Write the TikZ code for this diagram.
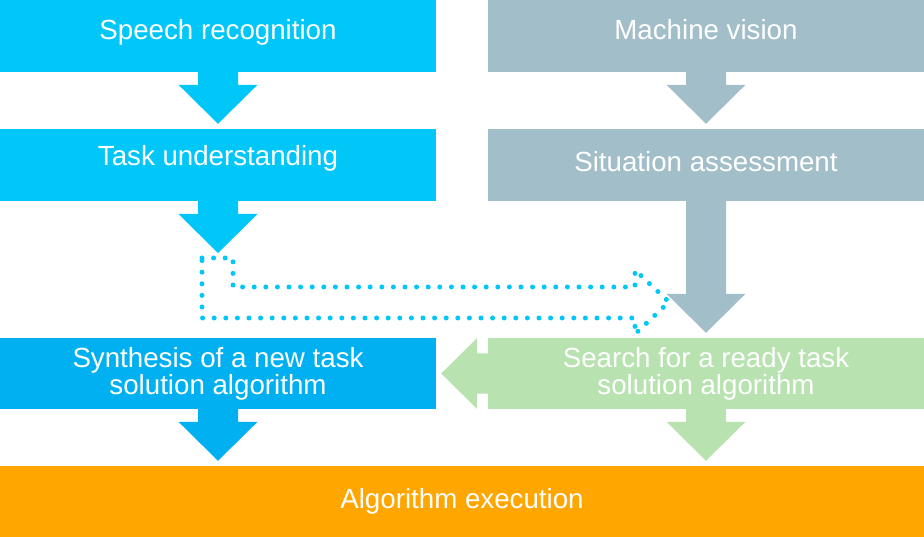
\documentclass[tikz,border=0pt]{standalone}
\usepackage{fontspec}
\setmainfont{Liberation Sans}
\usetikzlibrary{calc}

\definecolor{skyblue}{RGB}{0,199,248}
\definecolor{deepsky}{RGB}{0,176,240}
\definecolor{slategray}{RGB}{162,190,201}
\definecolor{palegreen}{RGB}{184,226,176}
\definecolor{execorange}{RGB}{255,166,0}

% block arrow pointing down: from node, target point, colour
\newcommand{\downblock}[3]{%
  \fill[#3] ($(#1.south)+(-20,0)$) -- ($(#1.south |- #2)+(-20,-44)$)
    -- ($(#1.south |- #2)+(-39.5,-44)$) -- ($(#1.south |- #2)+(0,-5)$)
    -- ($(#1.south |- #2)+(39.5,-44)$) -- ($(#1.south |- #2)+(20,-44)$)
    -- ($(#1.south)+(20,0)$) -- cycle;}

\begin{document}
\begin{tikzpicture}[
    x=1pt,
    y=-1pt,
    font=\fontsize{27.7}{27}\selectfont,
    stage/.style={minimum width=436pt, minimum height=72pt, inner sep=0pt, align=center, text=white},
    oneline/.style={text height=20pt, text depth=#1},
    dotpath/.style={draw=skyblue, line width=5pt, line cap=round, dash pattern=on 0pt off 11.6pt}
]
\useasboundingbox (0,0) rectangle (924,537);

% --- Bloques ---
\node[stage, oneline=13.4pt, fill=skyblue]   (speech)    at (218,36)  {Speech recognition};
\node[stage, oneline=13.4pt, fill=slategray] (vision)    at (706,36)  {Machine vision};
\node[stage, oneline=18.6pt, fill=skyblue]   (task)      at (218,165) {Task understanding};
\node[stage, oneline=6.6pt, fill=slategray]  (situation) at (706,165) {Situation assessment};
\node[stage, fill=deepsky, minimum height=71pt]   (synth)  at (218,373.5) {Synthesis of a new task\\solution algorithm};
\node[stage, fill=palegreen, minimum height=71pt] (search) at (706,373.5) {Search for a ready task\\solution algorithm};
\node[stage, oneline=7pt, fill=execorange, minimum width=924pt, minimum height=71pt] (exec) at (462,501.5) {Algorithm execution};

\coordinate (detour) at (218,258);

% --- Flechas ---
\downblock{speech}{task.north}{skyblue}
\downblock{vision}{situation.north}{slategray}
\downblock{task}{detour}{skyblue}
\downblock{situation}{search.north}{slategray}
\downblock{synth}{exec.north}{deepsky}
\downblock{search}{exec.north}{palegreen}

\fill[palegreen] ($(search.west)+(0,-20)$) -- ($(synth.east)+(41,-20)$)
    -- ($(synth.east)+(41,-35.5)$) -- ($(synth.east)+(5,0)$)
    -- ($(synth.east)+(41,35.5)$) -- ($(synth.east)+(41,20)$)
    -- ($(search.west)+(0,20)$) -- cycle;

% --- Flecha punteada ---
\draw[dotpath] (detour -| 202,0) -- (233,258) -- (233,287) -- (635,287) -- (635,270)
    -- (669,302) -- (635,334) -- (635,318) -- (202,318) -- cycle;

\end{tikzpicture}
\end{document}
